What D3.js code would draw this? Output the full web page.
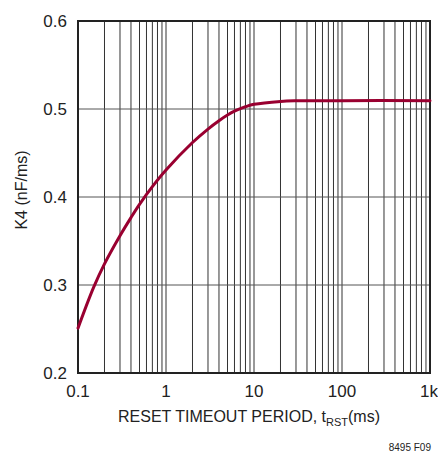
<!DOCTYPE html>
<html>
<head>
<meta charset="utf-8">
<script src="https://cdn.jsdelivr.net/npm/d3@7"></script>
<style>
  html, body { margin: 0; padding: 0; background: #fff; }
  svg text { font-family: 'Liberation Sans', Arial, sans-serif; fill: #222; }
</style>
</head>
<body>
<svg id="chart" width="438" height="453"></svg>
<script>
(function() {
    'use strict';

    // curve: reset timeout (ms) vs K4 (nF/ms)
    const tRst = [0.1, 0.15, 0.2, 0.3, 0.4, 0.5, 0.7, 1, 2, 3, 4, 5, 6, 7, 8, 10, 20, 30, 100, 1000];
    const k4   = [0.251, 0.297, 0.324, 0.356, 0.3766, 0.3916, 0.4117, 0.4306, 0.4619, 0.4772, 0.4867,
                  0.4931, 0.4975, 0.5005, 0.5026, 0.5053, 0.5086, 0.5093, 0.5095, 0.5095];

    const yTicks = [0.2, 0.3, 0.4, 0.5, 0.6];
    const xTicks = [0.1, 1, 10, 100, 1000];
    const xTickLabels = ['0.1', '1', '10', '100', '1k'];

    const margin = { top: 21, right: 8, bottom: 80, left: 78 };
    const svg = d3.select('#chart');
    const width = 438 - margin.left - margin.right;
    const height = 453 - margin.top - margin.bottom;

    const g = svg.append('g')
        .attr('transform', `translate(${margin.left},${margin.top})`);

    const x = d3.scaleLog().domain([0.1, 1000]).range([0, width]);
    const y = d3.scaleLinear().domain([0.2, 0.6]).range([height, 0]);

    // minor + major vertical grid (1..9 per decade)
    const vGrid = [];
    for (let dec = 0.1; dec < 1000; dec *= 10) {
        for (let m = 1; m <= 9; m++) vGrid.push(+(dec * m).toPrecision(3));
    }
    g.append('g')
        .selectAll('line')
        .data(vGrid.filter(v => v > 0.1))
        .enter().append('line')
        .attr('x1', d => x(d)).attr('x2', d => x(d))
        .attr('y1', 0).attr('y2', height)
        .attr('stroke', '#333')
        .attr('stroke-width', 1);

    g.append('g')
        .selectAll('line')
        .data(yTicks.filter(v => v > 0.2 && v < 0.6))
        .enter().append('line')
        .attr('x1', 0).attr('x2', width)
        .attr('y1', d => y(d)).attr('y2', d => y(d))
        .attr('stroke', '#555')
        .attr('stroke-width', 1);

    // frame
    g.append('rect')
        .attr('x', 0).attr('y', 0)
        .attr('width', width).attr('height', height)
        .attr('fill', 'none')
        .attr('stroke', '#222')
        .attr('stroke-width', 2);

    // y tick labels
    g.selectAll('.ylab')
        .data(yTicks)
        .enter().append('text')
        .attr('x', -11)
        .attr('y', d => y(d) + 6)
        .attr('text-anchor', 'end')
        .style('font-size', '17px')
        .text(d => d.toFixed(1));

    // x tick labels (last one pulled in so it stays on the page)
    g.selectAll('.xlab')
        .data(xTicks)
        .enter().append('text')
        .attr('x', (d, i) => i === xTicks.length - 1 ? x(d) + 8 : x(d))
        .attr('y', height + 24)
        .attr('text-anchor', (d, i) => i === xTicks.length - 1 ? 'end' : 'middle')
        .style('font-size', '17px')
        .text((d, i) => xTickLabels[i]);

    // curve
    const line = d3.line()
        .x((d, i) => x(tRst[i]))
        .y(d => y(d))
        .curve(d3.curveCatmullRom.alpha(0.5));

    g.append('path')
        .datum(k4)
        .attr('d', line)
        .attr('fill', 'none')
        .attr('stroke', '#990030')
        .attr('stroke-width', 3)
        .attr('stroke-linecap', 'round');

    // axis titles
    svg.append('text')
        .attr('transform', 'translate(27,190) rotate(-90)')
        .attr('text-anchor', 'middle')
        .style('font-size', '16px')
        .text('K4 (nF/ms)');

    const xt = svg.append('text')
        .attr('x', 249)
        .attr('y', 422)
        .attr('text-anchor', 'middle')
        .style('font-size', '16px');
    xt.append('tspan').text('RESET TIMEOUT PERIOD, t');
    xt.append('tspan').attr('dy', 4).style('font-size', '11px').text('RST');
    xt.append('tspan').attr('dy', -4).text('(ms)');

    svg.append('text')
        .attr('x', 431)
        .attr('y', 451)
        .attr('text-anchor', 'end')
        .style('font-size', '10px')
        .style('font-family', "'Liberation Sans Narrow', 'Liberation Sans', sans-serif")
        .text('8495 F09');
})();
</script>
</body>
</html>
